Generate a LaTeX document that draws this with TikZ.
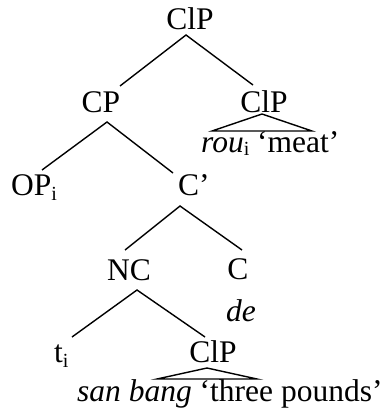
\documentclass[tikz,border=0pt]{standalone}
\usepackage{fontspec}
\setmainfont{Liberation Serif}
\newcommand{\mysub}[2]{{\fontsize{20}{20}\selectfont\raisebox{-#2pt}{#1}}}
\begin{document}
\begin{tikzpicture}[x=1pt,y=-1pt,
  lbl/.style={inner sep=0pt,anchor=base,font=\fontsize{31.5}{36}\selectfont},
  lblw/.style={lbl,anchor=base west},
  br/.style={line width=1.4pt},
  tri/.style={line width=1.4pt,line join=miter}]
\useasboundingbox (0,0) rectangle (388,414);
% nodes
\node[lbl] (clp) at (190,30) {ClP};
\node[lbl] (cp) at (101,113) {CP};
\node[lbl] (clpr) at (264,113) {ClP};
\node[lblw] (rou) at (201,153) {\textit{rou}\mysub{i}{2} ‘meat’};
\node[lblw] (op) at (11,195) {OP\mysub{i}{5}};
\node[lblw] (cbar) at (178,195) {C’};
\node[lbl] (nc) at (129,280) {NC};
\node[lbl] (c) at (238,279) {C};
\node[lbl] (de) at (241,321) {\textit{de}};
\node[lblw] (t) at (54,362) {t\mysub{i}{5}};
\node[lbl] (clpb) at (213,362) {ClP};
\node[lblw] (sb) at (77,401) {\textit{san bang} ‘three pounds’};
% branch points
\coordinate (clp-b) at (186,35);
\coordinate (cp-t) at (120,86);
\coordinate (clpr-t) at (253,85);
\coordinate (cp-b) at (107,122);
\coordinate (op-t) at (42,170);
\coordinate (cbar-t) at (173,173);
\coordinate (cbar-b) at (180,206);
\coordinate (nc-t) at (125,250);
\coordinate (c-t) at (242,250);
\coordinate (nc-b) at (137,290);
\coordinate (t-t) at (72,337);
\coordinate (clpb-t) at (205,337);
\coordinate (clpr-b) at (262,114);
\coordinate (clpb-b) at (207,368);
% branches
\draw[br] (cp-t) -- (clp-b) -- (clpr-t);
\draw[br] (op-t) -- (cp-b) -- (cbar-t);
\draw[br] (nc-t) -- (cbar-b) -- (c-t);
\draw[br] (t-t) -- (nc-b) -- (clpb-t);
% triangles
\draw[tri] (clpr-b) -- (212,131) -- (312,131) -- cycle;
\draw[tri] (clpb-b) -- (157,379) -- (257,379) -- cycle;
\end{tikzpicture}
\end{document}
